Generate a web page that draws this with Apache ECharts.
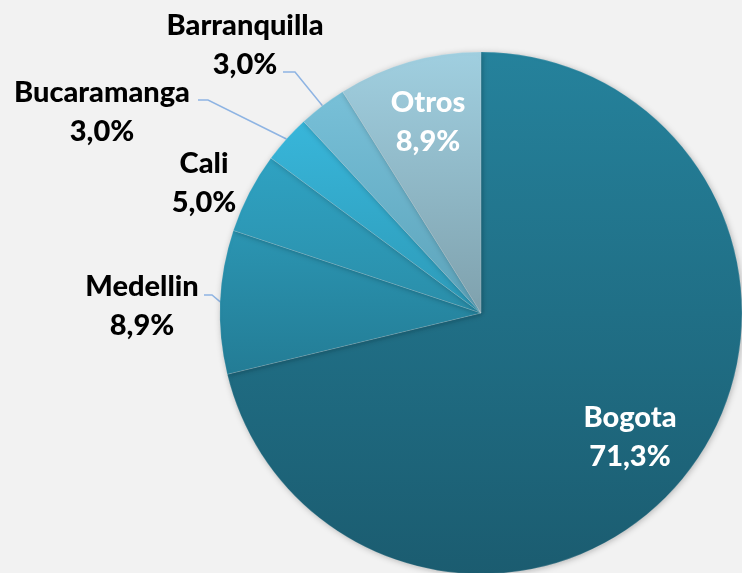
<!DOCTYPE html>
<html>
<head>
<meta charset="utf-8">
<script src="https://cdn.jsdelivr.net/npm/echarts@6/dist/echarts.min.js"></script>
<style>
  html, body { margin: 0; padding: 0; background: #f2f2f2; }
  #chart { width: 742px; height: 573px; }
</style>
</head>
<body>
<div id="chart"></div>
<script>
// Market share by city (percent), clockwise from 12 o'clock
const cities = ['Bogota', 'Medellin', 'Cali', 'Bucaramanga', 'Barranquilla', 'Otros'];
const shares = [71.3, 8.9, 5.0, 3.0, 3.0, 8.9];

// Vertical gradient stops per slice (top, bottom)
const sliceColors = [
  ['#25829c', '#1b5c70'],
  ['#2b95b2', '#237c95'],
  ['#2fa2c2', '#2a8ea9'],
  ['#38b6da', '#2d9ab8'],
  ['#78c0d8', '#5ca3ba'],
  ['#a0cfe0', '#7fa1ad']
];

// Label centres, and where each leader line meets its label
const labelSpots = [
  [630, 437], [142, 306], [204, 183], [102, 112], [245, 45], [428, 122]
];
const leaderEnds = [
  null, [[204, 295], [212, 295]], null, [[198, 100], [208, 100]], [[283, 72], [295, 72]], null
];
const insideLabel = [true, false, false, false, false, true];

const fmt = v => v.toFixed(1).replace('.', ',') + '%';

const chart = echarts.init(document.getElementById('chart'));

const data = cities.map((name, i) => ({
  name: name,
  value: shares[i],
  itemStyle: {
    color: new echarts.graphic.LinearGradient(0, 0, 0, 1, [
      { offset: 0, color: sliceColors[i][0] },
      { offset: 1, color: sliceColors[i][1] }
    ])
  },
  label: {
    color: insideLabel[i] ? '#ffffff' : '#000000'
  },
  labelLine: {
    show: leaderEnds[i] !== null
  }
}));

chart.setOption({
  backgroundColor: '#f2f2f2',
  animation: false,
  series: [{
    type: 'pie',
    center: [481, 313],
    radius: [0, 261],
    startAngle: 90,
    clockwise: true,
    data: data,
    itemStyle: {
      borderColor: 'rgba(255,255,255,0.25)',
      borderWidth: 0.6,
      shadowBlur: 6,
      shadowColor: 'rgba(0,0,0,0.25)',
      shadowOffsetX: 1,
      shadowOffsetY: 1
    },
    label: {
      show: true,
      position: 'outside',
      formatter: p => p.name + '\n' + fmt(p.value),
      fontFamily: 'Lato',
      fontWeight: 900,
      fontSize: 29,
      lineHeight: 39,
      align: 'center',
      overflow: 'none'
    },
    labelLine: {
      lineStyle: { color: '#8eb4e3', width: 1.5 },
      length: 10,
      length2: 10
    },
    labelLayout: function (params) {
      const i = params.dataIndex;
      const s = labelSpots[i];
      const out = {
        x: s[0],
        y: s[1],
        align: 'center',
        verticalAlign: 'middle'
      };
      const ends = leaderEnds[i];
      if (ends && params.labelLinePoints) {
        // start on the slice edge at its mid-angle, bend horizontally into the label
        const edge = params.labelLinePoints[0];
        out.labelLinePoints = [[edge[0], edge[1]], ends[1], ends[0]];
      }
      return out;
    }
  }]
});
</script>
</body>
</html>
